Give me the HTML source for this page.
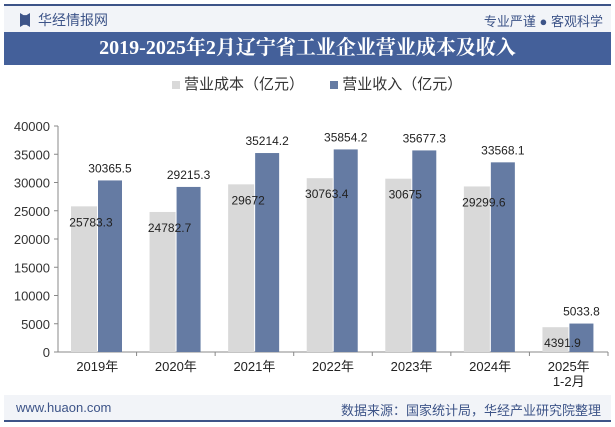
<!DOCTYPE html>
<html><head><meta charset="utf-8"><style>
body{margin:0;width:615px;height:427px;background:#fff;font-family:"Liberation Sans","Noto Sans CJK SC",sans-serif;position:relative;overflow:hidden}
.abs{position:absolute}
</style></head><body>
<div class="abs" style="left:4px;top:4px;width:607px;height:2px;background:#3d5488"></div>
<div class="abs" style="left:4px;top:6px;width:607px;height:26px;background:#f2f4f8"></div>
<div class="abs" style="left:20px;top:13px;width:10px;height:14px;background:#3d5488;clip-path:polygon(0 0,35% 15%,65% 15%,100% 0,100% 100%,65% 85%,35% 85%,0 100%)"></div>
<div class="abs" style="left:38px;top:10px;font-size:14px;color:#3d5488">华经情报网</div>
<div class="abs" style="right:12px;top:11px;font-size:13px;color:#3d5488">专业严谨 ● 客观科学</div>
<div class="abs" style="left:4px;top:32px;width:607px;height:33px;background:#44609a;color:#fff;font-weight:bold;font-size:20px;line-height:33px;text-align:center;font-family:'Liberation Serif','Noto Serif CJK SC',serif">2019-2025年2月辽宁省工业企业营业成本及收入</div>
<div class="abs" style="left:172px;top:73px;font-size:15px;color:#333">
<span><span style="display:inline-block;width:8px;height:8px;background:#d9d9d9;margin-right:4px"></span>营业成本（亿元）</span>
<span style="margin-left:22px"><span style="display:inline-block;width:8px;height:8px;background:#657ba3;margin-right:4px"></span>营业收入（亿元）</span>
</div>
<svg class="abs" style="left:0;top:0" width="615" height="427" id="chart"></svg>
<div class="abs" style="left:4px;top:395px;width:607px;height:25px;background:#f2f4f8"></div>
<div class="abs" style="left:16px;top:400px;font-size:13px;color:#3d5488">www.huaon.com</div>
<div class="abs" style="right:14px;top:400px;font-size:13px;color:#3d5488">数据来源：国家统计局，华经产业研究院整理</div>
<div class="abs" style="left:4px;top:420px;width:607px;height:2px;background:#3d5488"></div>
<script>
const categories=["2019年","2020年","2021年","2022年","2023年","2024年","2025年\n1-2月"];
const cost=[25783.3,24782.7,29672,30763.4,30675,29299.6,4391.9];
const revenue=[30365.5,29215.3,35214.2,35854.2,35677.3,33568.1,5033.8];
const yTicks=[0,5000,10000,15000,20000,25000,30000,35000,40000];
const svg=document.getElementById('chart');const NS='http://www.w3.org/2000/svg';
const x0=58,x1=608,y0=352,yTop=126,max=40000;
const gw=(x1-x0)/categories.length;
const y=v=>y0-(v/max)*(y0-yTop);
function mk(t,a,txt){const e=document.createElementNS(NS,t);for(const k in a)e.setAttribute(k,a[k]);if(txt!=null)e.textContent=txt;svg.appendChild(e);return e;}
let ax=mk('line',{x1:x0,y1:yTop,x2:x0,y2:y0,stroke:'#888'});

let bx=mk('line',{x1:x0,y1:y0,x2:x1,y2:y0,stroke:'#888'});

yTicks.forEach(t=>{const l=mk('line',{x1:x0-4,x2:x0,y1:y(t),y2:y(t),stroke:'#888'});

const tx=mk('text',{x:x0-8,y:y(t)+5,'text-anchor':'end','font-size':13,fill:'#333'},t);
});
categories.forEach((c,i)=>{const gx=x0+i*gw;
const tk=mk('line',{x1:gx+gw,x2:gx+gw,y1:y0,y2:y0+4,stroke:'#888'});

const b1=mk('rect',{x:gx+13,y:y(cost[i]),width:26,height:y0-y(cost[i]),fill:'#d9d9d9'});

const b2=mk('rect',{x:gx+40,y:y(revenue[i]),width:24,height:y0-y(revenue[i]),fill:'#657ba3'});

const l1=mk('text',{x:gx+33,y:Math.min(y(cost[i])+20,y0-4),'text-anchor':'middle','font-size':12,fill:'#222'},cost[i]);

const l2=mk('text',{x:gx+52,y:y(revenue[i])-8,'text-anchor':'middle','font-size':12,fill:'#222'},revenue[i]);

c.split('\n').forEach((s,j)=>{const t=mk('text',{x:gx+gw/2,y:y0+19+j*15,'text-anchor':'middle','font-size':13,fill:'#222'},s);
});});
</script>
</body></html>
